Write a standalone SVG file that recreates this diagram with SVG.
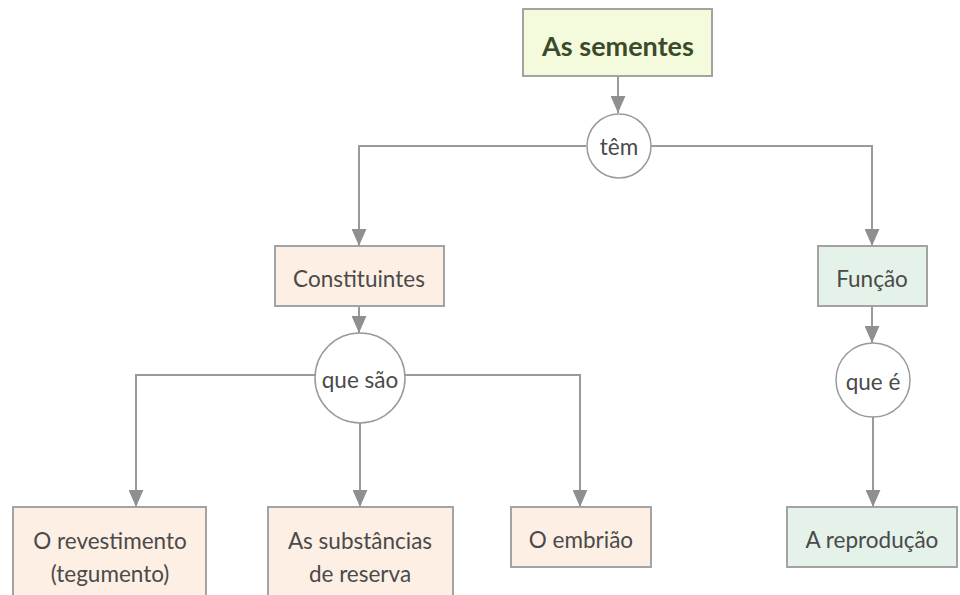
<svg xmlns="http://www.w3.org/2000/svg" width="960" height="595" viewBox="0 0 960 595">
  <style>
    .box { stroke: #a3a3a3; stroke-width: 2; }
    .root { fill: #f4fbdd; }
    .part { fill: #fdefe4; }
    .func { fill: #e4f2e9; }
    .link { fill: #ffffff; stroke: #9a9a9a; stroke-width: 1.5; }
    .conn { fill: none; stroke: #9a9a9a; stroke-width: 2; }
    text { font-family: "Lato", "Open Sans", sans-serif; font-size: 22.5px; fill: #4a4a4a; text-anchor: middle; dominant-baseline: central; }
    .title { font-weight: bold; font-size: 27px; fill: #3b4a2c; }
  </style>
  <defs>
    <marker id="arrow" viewBox="0 0 16 14" refX="16" refY="7" markerWidth="17" markerHeight="15" markerUnits="userSpaceOnUse" orient="auto">
      <path d="M0,0 L16,7 L0,14 Z" fill="#8f8f8f"/>
    </marker>
  </defs>
  <rect width="960" height="595" fill="#ffffff"/>

  <g id="connectors">
    <line class="conn" x1="618" y1="76" x2="618" y2="113" marker-end="url(#arrow)"/>
    <polyline class="conn" points="586,146 359,146 359,246" marker-end="url(#arrow)"/>
    <polyline class="conn" points="651,146 872,146 872,246" marker-end="url(#arrow)"/>
    <line class="conn" x1="359" y1="306" x2="359" y2="333" marker-end="url(#arrow)"/>
    <polyline class="conn" points="315,375 136,375 136,507" marker-end="url(#arrow)"/>
    <line class="conn" x1="360" y1="423" x2="360" y2="507" marker-end="url(#arrow)"/>
    <polyline class="conn" points="405,375 580,375 580,507" marker-end="url(#arrow)"/>
    <line class="conn" x1="872" y1="306" x2="872" y2="343" marker-end="url(#arrow)"/>
    <line class="conn" x1="873" y1="417" x2="873" y2="507" marker-end="url(#arrow)"/>
  </g>

  <g id="as-sementes">
    <rect class="box root" x="523" y="9" width="189" height="67"/>
    <text class="title" x="618" y="45">As sementes</text>
  </g>

  <g id="tem">
    <circle class="link" cx="619" cy="146" r="32"/>
    <text x="619" y="146">têm</text>
  </g>

  <g id="constituintes">
    <rect class="box part" x="275" y="246" width="169" height="60"/>
    <text x="359" y="278">Constituintes</text>
  </g>

  <g id="funcao">
    <rect class="box func" x="818" y="246" width="109" height="60"/>
    <text x="872" y="278">Função</text>
  </g>

  <g id="que-sao">
    <circle class="link" cx="360" cy="378" r="45"/>
    <text x="360" y="379">que são</text>
  </g>

  <g id="que-e">
    <circle class="link" cx="873" cy="380" r="37"/>
    <text x="873" y="381">que é</text>
  </g>

  <g id="revestimento">
    <rect class="box part" x="13" y="507" width="193" height="100"/>
    <text x="110" y="540">O revestimento</text>
    <text x="110" y="573">(tegumento)</text>
  </g>

  <g id="substancias">
    <rect class="box part" x="268" y="507" width="185" height="100"/>
    <text x="360" y="540">As substâncias</text>
    <text x="360" y="573">de reserva</text>
  </g>

  <g id="embriao">
    <rect class="box part" x="511" y="507" width="140" height="60"/>
    <text x="581" y="539">O embrião</text>
  </g>

  <g id="reproducao">
    <rect class="box func" x="787" y="507" width="170" height="60"/>
    <text x="872" y="539">A reprodução</text>
  </g>
</svg>
